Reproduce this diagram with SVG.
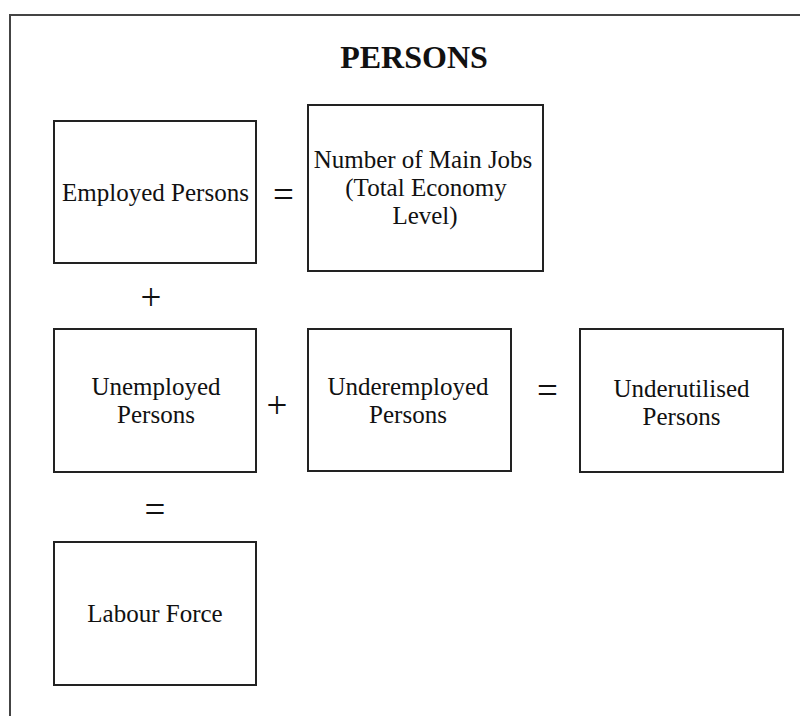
<svg xmlns="http://www.w3.org/2000/svg" width="800" height="716" viewBox="0 0 800 716">
<style>
.box{fill:#fff;stroke:#222;stroke-width:2}
.lbl{font-family:"Liberation Serif","Times New Roman",serif;font-size:25px;fill:#111;text-anchor:middle}
.op{font-family:"Liberation Serif","Times New Roman",serif;font-size:37px;fill:#111;text-anchor:middle}
.title{font-family:"Liberation Serif","Times New Roman",serif;font-size:32px;font-weight:bold;fill:#111;text-anchor:middle}
</style>
<rect x="0" y="0" width="800" height="716" fill="#fff"/>
<rect x="10" y="15" width="820" height="720" fill="none" stroke="#444" stroke-width="2"/>
<text class="title" x="414" y="68">PERSONS</text>
<g id="employed">
<rect class="box" x="54" y="121" width="202" height="142"/>
<text class="lbl" x="155.5" y="201">Employed Persons</text>
</g>
<g id="mainjobs">
<rect class="box" x="308" y="105" width="235" height="166"/>
<text class="lbl" x="423" y="168">Number of Main Jobs</text>
<text class="lbl" x="426" y="196">(Total Economy</text>
<text class="lbl" x="425" y="224">Level)</text>
</g>
<g id="unemployed">
<rect class="box" x="54" y="329" width="202" height="143"/>
<text class="lbl" x="156" y="395">Unemployed</text>
<text class="lbl" x="156" y="423">Persons</text>
</g>
<g id="underemployed">
<rect class="box" x="308" y="329" width="203" height="142"/>
<text class="lbl" x="408" y="395">Underemployed</text>
<text class="lbl" x="408" y="423">Persons</text>
</g>
<g id="underutilised">
<rect class="box" x="580" y="329" width="203" height="143"/>
<text class="lbl" x="681.5" y="397">Underutilised</text>
<text class="lbl" x="681.5" y="425">Persons</text>
</g>
<g id="labourforce">
<rect class="box" x="54" y="542" width="202" height="143"/>
<text class="lbl" x="155" y="622">Labour Force</text>
</g>
<g id="connectors">
<text class="op" x="283.5" y="207">=</text>
<text class="op" x="151" y="310">+</text>
<text class="op" x="277" y="418">+</text>
<text class="op" x="547.5" y="403">=</text>
<text class="op" x="155" y="522">=</text>
</g>
</svg>
